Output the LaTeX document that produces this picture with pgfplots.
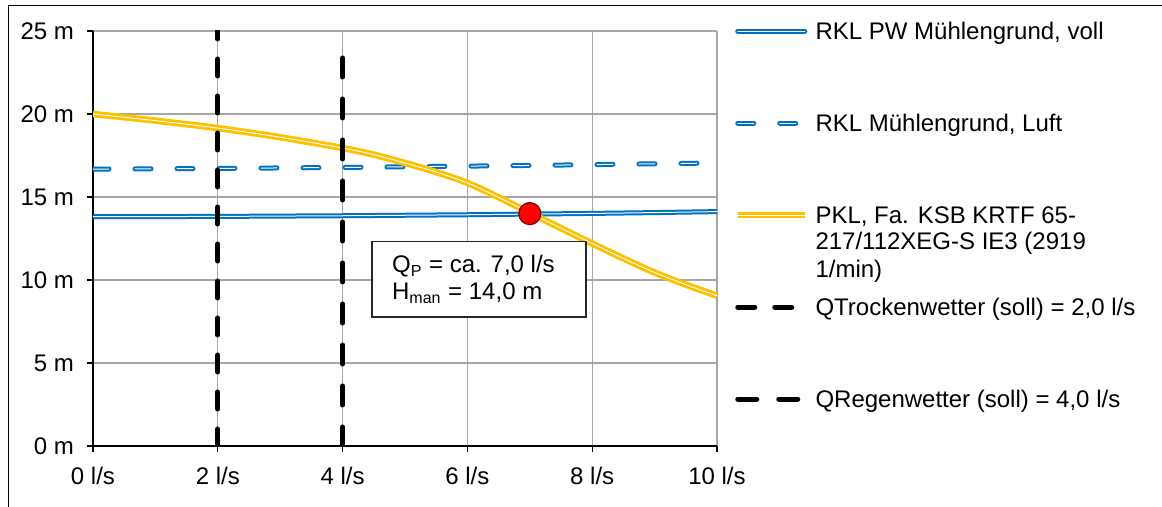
\documentclass[border=0pt]{standalone}
\usepackage{fontspec}
\setmainfont{Liberation Sans}
\usepackage{pgfplots}
\pgfplotsset{compat=1.18}

\definecolor{rklblue}{RGB}{0,112,192}
\definecolor{pklgold}{RGB}{255,192,0}
\definecolor{gridgray}{RGB}{166,166,166}

\begin{document}
\begin{tikzpicture}[font=\fontsize{12}{13.5}\selectfont]
\useasboundingbox (0,0) rectangle (581pt,253.5pt);
% chart frame
\draw[line width=0.5pt] (4pt,0pt) -- (4pt,250.5pt) -- (581pt,250.5pt);
\begin{axis}[
  at={(46.5pt,30.5pt)}, anchor=south west,
  scale only axis, width=312pt, height=207.5pt,
  xmin=0, xmax=10, ymin=0, ymax=25,
  xtick={0,2,...,10}, xticklabels={0 l/s,2 l/s,4 l/s,6 l/s,8 l/s,10 l/s},
  ytick={0,5,...,25}, yticklabels={0 m,5 m,10 m,15 m,20 m,25 m},
  xticklabel style={yshift=-4pt},
  yticklabel style={xshift=-3pt},
  axis x line*=bottom, axis y line*=left,
  axis line style={-, line width=0.65pt, black},
  tick align=outside, major tick length=3pt,
  tick style={black, line width=0.65pt},
  grid=major, grid style={gridgray, line width=0.65pt},
  legend cell align=left,
  legend style={
    at={(axis description cs:1,1)}, anchor=north west, xshift=7.5pt, yshift=6pt,
    draw=none, fill=none, inner sep=0pt, outer sep=0pt,
    row sep=34pt, column sep=0pt,
    nodes={inner sep=0pt, outer sep=0pt, text height=10pt, text depth=2pt, align=left, anchor=west},
  },
  legend image code/.code={\draw[#1] (1.25pt,0pt) -- (34.75pt,0pt); \path (0pt,0pt) (38.5pt,0pt);},
]
% system curve, pressure main full
\addplot[rklblue, line width=1pt, double=white, double distance=0.5pt, line cap=round]
  coordinates {(0,13.82) (1,13.82) (2,13.83) (3,13.85) (4,13.87) (5,13.90) (6,13.93) (7,13.97) (8,14.01) (9,14.06) (10,14.12)};
\addlegendentry{RKL PW Mühlengrund, voll}
% system curve with air
\addplot[rklblue, line width=1pt, double=white, double distance=0.5pt, line cap=round, dash pattern=on 8pt off 13pt]
  coordinates {(0,16.68) (1,16.70) (2,16.72) (3,16.75) (4,16.78) (5,16.82) (6,16.86) (7,16.90) (8,16.95) (9,17.00) (10,17.05)};
\addlegendentry{RKL Mühlengrund, Luft}
% pump curve
\addplot[pklgold, line width=1.4pt, double=white, double distance=0.45pt, smooth]
  coordinates {(0,20.0) (1,19.6) (2,19.15) (3,18.6) (4,17.95) (4.5,17.55) (5,17.05) (5.5,16.5)
               (6,15.85) (6.5,14.98) (7,14.05) (7.5,13.12) (8,12.2) (8.5,11.3) (9,10.45) (9.5,9.72) (10,9.05)};
\addlegendentry{\begin{tabular}[t]{@{}l@{}}PKL, Fa. KSB KRTF 65-\\217/112XEG-S IE3 (2919\\1/min)\end{tabular}}
% design flows
\addplot[black, line width=2.5pt, line cap=round, dash pattern=on 8.5pt off 10pt]
  coordinates {(2,0) (2,25)};
\addlegendentry{QTrockenwetter (soll) = 2,0 l/s}
\addplot[black, line width=2.5pt, line cap=round, dash pattern=on 9.5pt off 11pt]
  coordinates {(4,0) (4,24)};
\addlegendentry{QRegenwetter (soll) = 4,0 l/s}
% operating point
\addplot[forget plot, only marks, mark=*, mark size=5.5pt,
  mark options={fill=red, draw=red!45!black, line width=0.6pt}]
  coordinates {(7,14)};
% annotation
\draw[black!85, line width=0.6pt, fill=white] (axis cs:4.47,12.31) rectangle (axis cs:7.9,7.77);
\node[anchor=base west, inner sep=0pt] at (axis cs:4.787,10.44) {Q\textsubscript{P} = ca. 7,0 l/s};
\node[anchor=base west, inner sep=0pt] at (axis cs:4.787,8.80) {H\textsubscript{man} = 14,0 m};
\end{axis}
\end{tikzpicture}
\end{document}
